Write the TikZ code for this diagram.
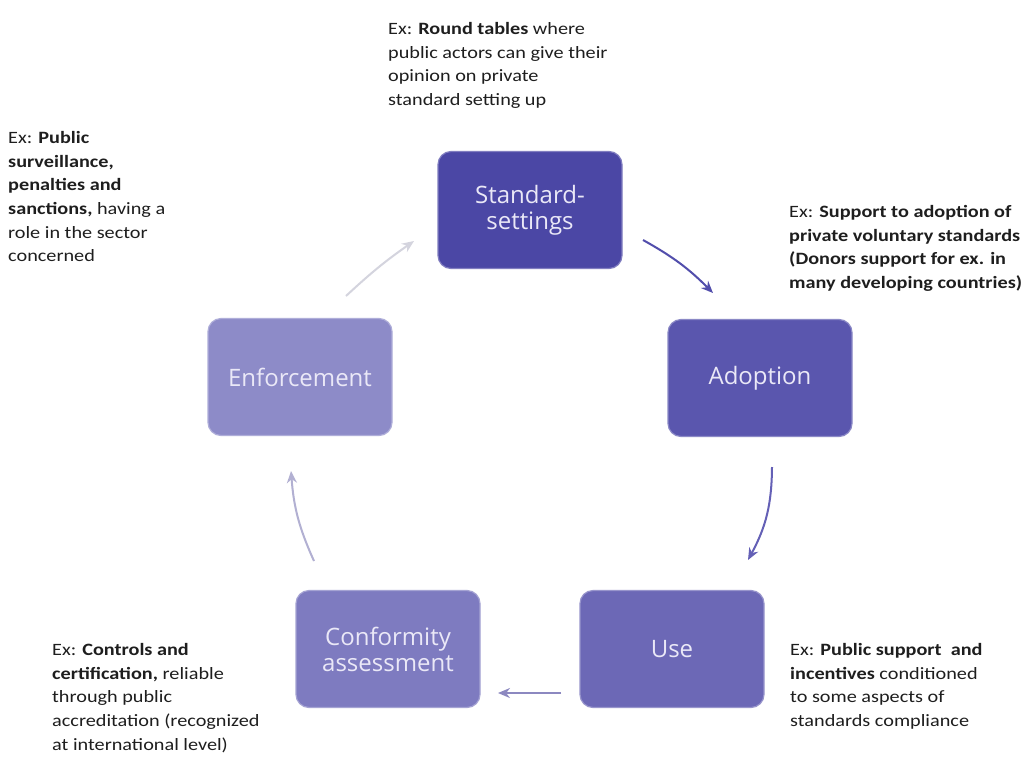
\documentclass[tikz,border=0pt]{standalone}
\usepackage{fontspec}
\setmainfont{Carlito}[FakeStretch=1.17]
\newfontfamily\boxfont{Open Sans}
\usetikzlibrary{arrows.meta}
\definecolor{cA}{RGB}{75,71,165}
\definecolor{cB}{RGB}{90,86,174}
\definecolor{cC}{RGB}{108,104,182}
\definecolor{cD}{RGB}{126,123,192}
\definecolor{cE}{RGB}{141,139,200}
\definecolor{boxtext}{RGB}{234,232,247}
\definecolor{txt}{RGB}{30,30,30}
\definecolor{a1}{RGB}{82,78,172}
\definecolor{a2}{RGB}{100,96,182}
\definecolor{a3}{RGB}{140,136,192}
\definecolor{a4}{RGB}{178,176,210}
\definecolor{a5}{RGB}{212,212,222}
\tikzset{
  stagebox/.style={rounded corners=13pt, minimum width=184pt, minimum height=117pt,
    draw=#1!70!white, line width=1.2pt, fill=#1, text=boxtext, align=center,
    font=\boxfont\fontsize{24}{26}\selectfont, inner sep=0pt},
  note/.style={anchor=north west, align=left, inner sep=0pt, text=txt,
    font=\fontsize{17.3}{23.7}\selectfont},
  cyc/.style={line width=2pt, -{Stealth[length=12pt,width=10pt]}, draw=#1},
}
\begin{document}
\begin{tikzpicture}[x=1pt,y=-1pt]
\useasboundingbox (0,0) rectangle (1033,766);
\fill[white] (0,0) rectangle (1033,766);

\node[stagebox=cA] (std) at (530,210) {Standard-\\settings};
\node[stagebox=cB] (adp) at (760,378) {Adoption};
\node[stagebox=cC] (use) at (672,649) {Use};
\node[stagebox=cD] (conf) at (388,649) {Conformity\\assessment};
\node[stagebox=cE] (enf) at (300,377) {Enforcement};

\node[note] (n1) at (388,22) {Ex: \textbf{Round tables} where\\public actors can give their\\opinion on private\\standard setting up};
\node[note] (n2) at (789,205) {Ex: \textbf{Support to adoption of}\\\textbf{private voluntary standards}\\\textbf{(Donors support for ex. in}\\\textbf{many developing countries)}};
\node[note] (n3) at (8,131) {Ex: \textbf{Public}\\\textbf{surveillance,}\\\textbf{penalties and}\\\textbf{sanctions,} having a\\role in the sector\\concerned};
\node[note] (n4) at (790,643) {Ex: \textbf{Public support\ \ and}\\\textbf{incentives} conditioned\\to some aspects of\\standards compliance};
\node[note] (n5) at (52,643) {Ex: \textbf{Controls and}\\\textbf{certification,} reliable\\through public\\accreditation (recognized\\at international level)};

\coordinate (s1) at (643,240); \coordinate (e1) at (713,293);
\coordinate (s2) at (772,467); \coordinate (e2) at (748,560);
\coordinate (s3) at (561,693); \coordinate (e3) at (498,693);
\coordinate (s4) at (314,561); \coordinate (e4) at (291,471);
\coordinate (s5) at (346,296); \coordinate (e5) at (414,241);

\draw[cyc=a1] (s1) to[bend left=8] (e1);
\draw[cyc=a2] (s2) to[bend left=14] (e2);
\draw[cyc=a3] (s3) -- (e3);
\draw[cyc=a4] (s4) to[bend left=10] (e4);
\draw[cyc=a5] (s5) to[bend left=4] (e5);
\end{tikzpicture}
\end{document}
